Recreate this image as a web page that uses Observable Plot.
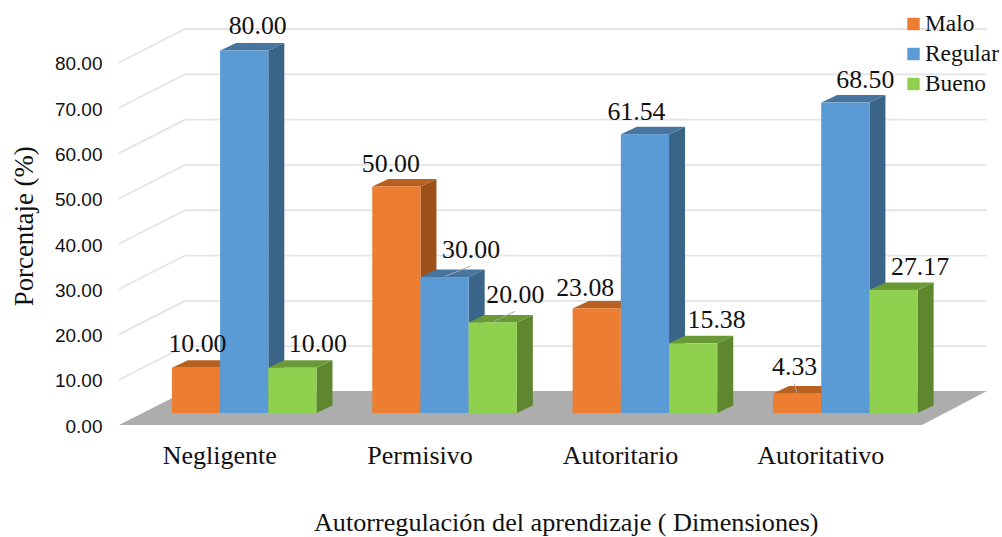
<!DOCTYPE html>
<html>
<head>
<meta charset="utf-8">
<script src="https://cdn.jsdelivr.net/npm/d3@7"></script>
<script src="https://cdn.jsdelivr.net/npm/@observablehq/plot@0.6"></script>
<style>html,body{margin:0;padding:0;background:#fff}svg{display:block}</style>
</head>
<body>
<div id="chart"></div>
<script>
const categories = ["Negligente", "Permisivo", "Autoritario", "Autoritativo"];
const seriesNames = ["Malo", "Regular", "Bueno"];
const malo = [10.00, 50.00, 23.08, 4.33];
const regular = [80.00, 30.00, 61.54, 68.50];
const bueno = [10.00, 20.00, 15.38, 27.17];
const yTicks = [0, 10, 20, 30, 40, 50, 60, 70, 80];
const colors = ["#ED7D31", "#5B9BD5", "#8FD14F"];
const sideColors = ["#9C5119", "#3A6588", "#5F8730"];
const topColors = ["#B8601F", "#4775A0", "#6A9A36"];

// hand-placed label nudges of the original, relative to the top centre of each bar
const labelNudgeX = [[1, -6, -12, -3], [13, 26, -9, 19.5], [25, 22, 23, 26]];
const labelNudgeY = [[-16, -15, -13, -19], [-17.5, -20, -15, -15], [-16, -20, -16, -15]];
const leaders = [[false, false, false, true], [false, true, false, false], [false, true, false, false]];

const table = [malo, regular, bueno];
const rows = seriesNames.flatMap((series, s) =>
  categories.map((category, c) => ({category, series, s, c, value: table[s][c]})));

const W = 1002, H = 537, mLeft = 119, mRight = 81.5;
const serif = "'Liberation Serif', serif", sans = "'Liberation Sans', sans-serif";
const wallDx = 66, wallDy = 34;     // back wall offset
const barLift = 12, barShift = 25;  // bars stand inside the floor
const sideDx = 16, sideDy = 7.5;    // bar depth
const barW = 48.2, gridColor = "#E4E4E4";
const bandW = (W - mLeft - mRight) / categories.length;
const inset = (bandW - barW) / 2;
const sx = s => barShift + (s - 1) * barW;

const svgEl = (tag, attrs) => {
  const e = d3.create("svg:" + tag);
  for (const k in attrs) e.attr(k, attrs[k]);
  return e.node();
};
const poly = (pts, fill) => svgEl("polygon", {points: pts.map(p => p.join(",")).join(" "), fill});

const floor = (i, scales, v, dim) => {
  const y0 = scales.y(0), xl = dim.marginLeft, xr = dim.width - dim.marginRight;
  return poly([[xl, y0], [xl + wallDx + 1, y0 - wallDy], [xr + wallDx + 0.5, y0 - wallDy], [xr + 1.5, y0]], "#ADADAD");
};
const slants = (i, scales, v, dim) => {
  const g = d3.create("svg:g");
  for (const t of yTicks.slice(1)) {
    const y = scales.y(t);
    g.append("line").attr("x1", dim.marginLeft).attr("y1", y)
      .attr("x2", dim.marginLeft + wallDx + 1).attr("y2", y - wallDy)
      .attr("stroke", gridColor).attr("stroke-width", 1.8);
  }
  return g.node();
};
const faces = (s) => (i, scales) => {
  const g = d3.create("svg:g");
  for (const r of rows.filter(d => d.s === s)) {
    const x1 = scales.x(r.category) + inset + sx(s) + barW;
    const x0 = x1 - barW;
    const yt = scales.y(r.value) - barLift, yb = scales.y(0) - barLift;
    g.node().append(poly([[x1, yt], [x1 + sideDx, yt - sideDy], [x1 + sideDx, yb - sideDy], [x1, yb]], sideColors[s]));
    g.node().append(poly([[x0, yt], [x0 + sideDx, yt - sideDy], [x1 + sideDx, yt - sideDy], [x1, yt]], topColors[s]));
  }
  return g.node();
};
const labelX = (r, scales) => scales.x(r.category) + bandW / 2 + sx(r.s) + labelNudgeX[r.s][r.c];
const leaderLines = (i, scales) => {
  const g = d3.create("svg:g");
  for (const r of rows.filter(d => leaders[d.s][d.c])) {
    const yt = scales.y(r.value) - barLift;
    const lx = labelX(r, scales), ly = yt + labelNudgeY[r.s][r.c];
    const bx = scales.x(r.category) + bandW / 2 + sx(r.s);
    g.append("line").attr("x1", bx).attr("y1", yt - 0.5)
      .attr("x2", lx).attr("y2", ly + 9)
      .attr("stroke", "#A6A6A6").attr("stroke-width", 1);
  }
  return g.node();
};

const chart = Plot.plot({
  width: W, height: H,
  marginLeft: mLeft, marginRight: mRight, marginTop: 62.5, marginBottom: 112,
  style: {background: "#fff", overflow: "visible"},
  x: {type: "band", domain: categories, padding: 0, round: false, label: null},
  y: {domain: [0, 80], label: null},
  color: {domain: seriesNames, range: colors},
  marks: [
    Plot.ruleY(yTicks.slice(1), {y: d => d, dx: wallDx, dy: -wallDy, stroke: gridColor, strokeWidth: 1.8}),
    slants,
    floor,
    ...seriesNames.flatMap((name, s) => [
      faces(s),
      Plot.barY(rows.filter(d => d.s === s), {
        x: "category", y: "value", fill: "series",
        insetLeft: inset, insetRight: inset, dx: sx(s), dy: -barLift
      })
    ]),
    leaderLines,
    ...rows.map(r => Plot.text([r], {
      x: "category", y: "value", text: d => d.value.toFixed(2),
      dx: sx(r.s) + labelNudgeX[r.s][r.c], dy: -barLift + labelNudgeY[r.s][r.c],
      lineAnchor: "bottom", textAnchor: "middle",
      fontFamily: serif, fontSize: 25.8, fill: "#111"
    })),
    Plot.axisY({ticks: yTicks, tickFormat: d => d.toFixed(2), tickSize: 0, tickPadding: 17, label: null, dy: 1.2,
      fontFamily: sans, fontSize: 19, fill: "#111"}),
    Plot.axisX({tickSize: 0, label: null, tickPadding: 0, lineAnchor: "bottom", dy: 38,
      fontFamily: serif, fontSize: 26, fill: "#111"}),
    Plot.text(["Porcentaje (%)"], {frameAnchor: "left", dx: -95, dy: -18, rotate: -90, textAnchor: "middle",
      fontFamily: serif, fontSize: 26.8, fill: "#111"}),
    Plot.text(["Autorregulación del aprendizaje ( Dimensiones)"], {frameAnchor: "bottom", dx: 46, dy: 105.5,
      lineAnchor: "bottom", textAnchor: "middle", fontFamily: serif, fontSize: 26.2, fill: "#111"}),
    ...seriesNames.flatMap((name, s) => [
      Plot.dot([name], {frameAnchor: "top-left", dx: 794, dy: -39 + 30 * s, r: 7, symbol: "square", fill: d => d}),
      Plot.text([name], {frameAnchor: "top-left", dx: 805.5, dy: -32.5 + 30 * s, lineAnchor: "bottom", textAnchor: "start",
        fontFamily: serif, fontSize: 23.4, fill: "#111"})
    ])
  ]
});
document.getElementById("chart").append(chart);
</script>
</body>
</html>
